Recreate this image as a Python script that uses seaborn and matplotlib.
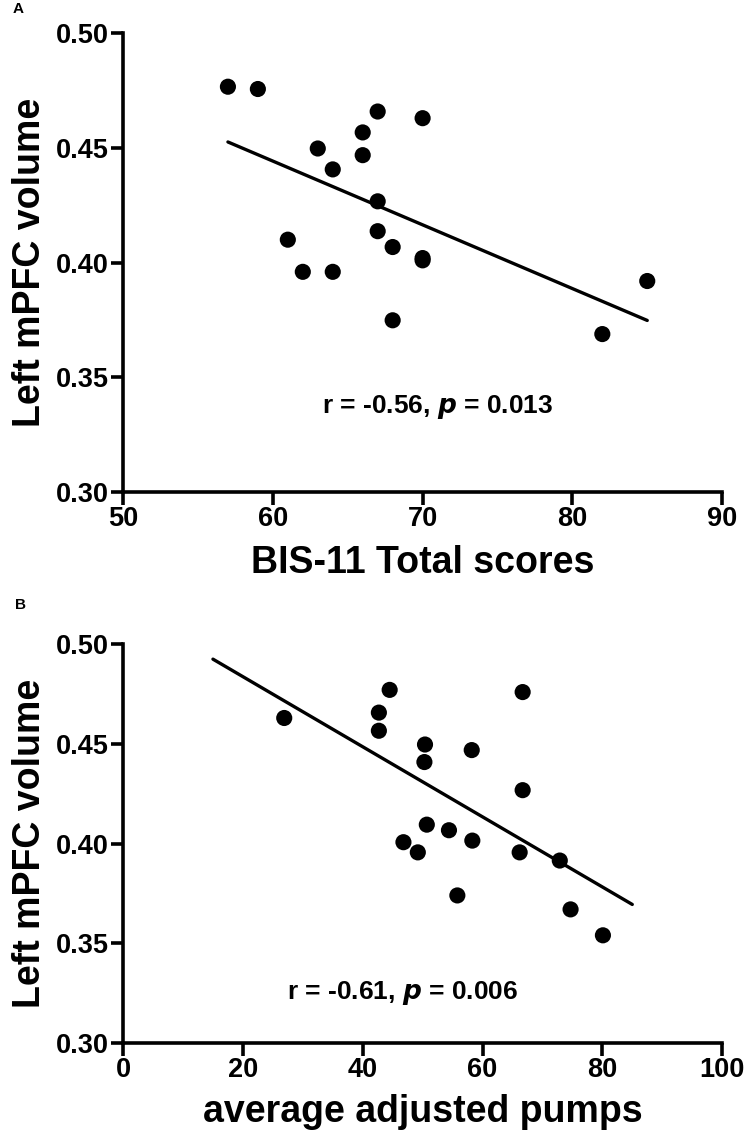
import numpy as np
import pandas as pd
import seaborn as sns
import matplotlib
matplotlib.use("Agg")
import matplotlib.pyplot as plt

# Panel A data: BIS-11 total scores vs left mPFC volume
bis_scores = [57, 59, 61, 62, 63, 64, 64, 66, 66, 67, 67, 67, 68, 68, 70, 70, 70, 82, 85]
bis_volume = [0.4766, 0.4756, 0.4100, 0.396, 0.4497, 0.4406, 0.396, 0.4567, 0.4468,
              0.4658, 0.4267, 0.4137, 0.4068, 0.3749, 0.4629, 0.4020, 0.4010, 0.3689, 0.392]

# Panel B data: average adjusted pumps vs left mPFC volume
pumps = [26.9, 42.7, 42.7, 44.5, 46.8, 49.2, 50.4, 50.3, 50.7, 54.4, 55.8,
         58.2, 58.3, 66.2, 66.7, 66.7, 72.9, 74.7, 80.1]
pumps_volume = [0.463, 0.4657, 0.4566, 0.4771, 0.4007, 0.3956, 0.4497, 0.4409, 0.4095,
                0.4067, 0.374, 0.4469, 0.4015, 0.3956, 0.476, 0.4268, 0.3915, 0.367, 0.354]

y_ticks = [0.30, 0.35, 0.40, 0.45, 0.50]
x_ticks_a = [50, 60, 70, 80, 90]
x_ticks_b = [0, 20, 40, 60, 80, 100]
fit_range_b = [15, 85]

sns.set_theme(style="ticks")
plt.rcParams['font.family'] = ['Liberation Sans', 'DejaVu Sans']
plt.rcParams['font.weight'] = 'bold'
for key in ["text.color", "axes.labelcolor", "xtick.color", "ytick.color", "axes.edgecolor"]:
    plt.rcParams[key] = "black"

fig = plt.figure(figsize=(7.46, 11.37), dpi=100)
ax_a = fig.add_axes([0.165, 0.567, 0.803, 0.404])
ax_b = fig.add_axes([0.165, 0.0827, 0.803, 0.3507])

df_a = pd.DataFrame({"x": bis_scores, "y": bis_volume})
df_b = pd.DataFrame({"x": pumps, "y": pumps_volume})

lw = 2.4
ms = 135
# Panel A
sns.regplot(data=df_a, x="x", y="y", ax=ax_a, ci=None, color="black",
            scatter_kws=dict(s=ms, edgecolor="none", alpha=1, zorder=3),
            line_kws=dict(linewidth=lw))

# Panel B
sns.scatterplot(data=df_b, x="x", y="y", ax=ax_b, color="black", s=ms,
                edgecolor="none", zorder=3)
coef = np.polyfit(df_b["x"], df_b["y"], 1)
fit_x = np.array(fit_range_b, dtype=float)
fit_df = pd.DataFrame({"x": fit_x, "y": np.polyval(coef, fit_x)})
sns.lineplot(data=fit_df, x="x", y="y", ax=ax_b, color="black", linewidth=lw)

for ax, xt in [(ax_a, x_ticks_a), (ax_b, x_ticks_b)]:
    ax.set_xlim(xt[0], xt[-1])
    ax.set_ylim(0.30, 0.50)
    ax.set_xticks(xt)
    ax.set_yticks(y_ticks)
    ax.set_yticklabels([f"{v:.2f}" for v in y_ticks])
    ax.set_xticklabels([str(v) for v in xt])
    for s in ["top", "right"]:
        ax.spines[s].set_visible(False)
    for s in ["left", "bottom"]:
        ax.spines[s].set_linewidth(2.6)
    ax.tick_params(axis="both", width=2.6, length=9, labelsize=19.5, pad=1)
    for lab in ax.get_xticklabels() + ax.get_yticklabels():
        lab.set_fontweight("bold")
    ax.set_ylabel("Left mPFC volume", fontsize=27, fontweight="bold", labelpad=6)

ax_a.set_xlabel("BIS-11 Total scores", fontsize=27, fontweight="bold", labelpad=9)
ax_b.set_xlabel("average adjusted pumps", fontsize=27, fontweight="bold", labelpad=8)

ax_a.text(71.0, 0.337, r"r = -0.56, $\bfit{p}$ = 0.013", ha="center", va="center",
          fontsize=19, fontweight="bold")
ax_b.text(46.6, 0.325, r"r = -0.61, $\bfit{p}$ = 0.006", ha="center", va="center",
          fontsize=19, fontweight="bold")

fig.text(18 / 746, 1 - 9 / 1137, "A", fontsize=11, fontweight="bold", ha="center", va="center")
fig.text(20 / 746, 1 - 605 / 1137, "B", fontsize=11, fontweight="bold", ha="center", va="center")

fig.savefig("out.png", dpi=100)
